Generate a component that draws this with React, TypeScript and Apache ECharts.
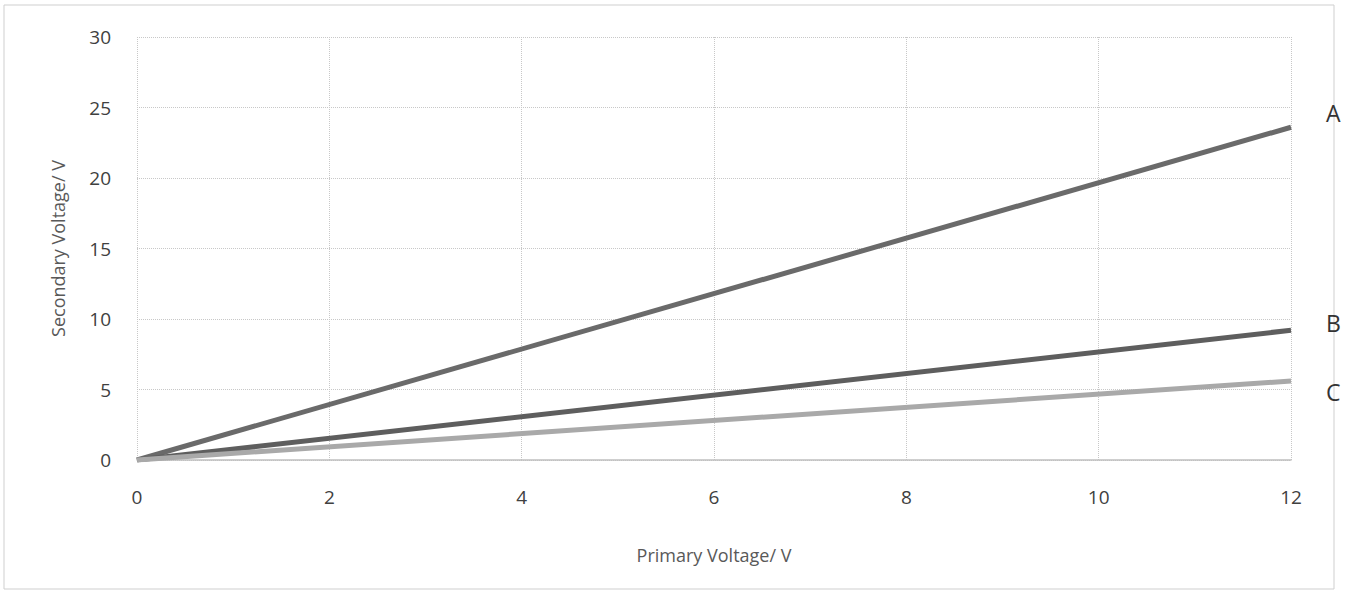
import React, { useEffect, useRef } from "react";
import * as echarts from "echarts";

const primaryVoltage = [0, 12];
const seriesNames = ["A", "B", "C"];
const valuesA = [0, 23.6];
const valuesB = [0, 9.2];
const valuesC = [0, 5.6];
const xTicks = [0, 2, 4, 6, 8, 10, 12];
const yTicks = [0, 5, 10, 15, 20, 25, 30];

export default function App() {
  const ref = useRef<HTMLDivElement>(null);
  useEffect(() => {
    if (!ref.current) return;
    const chart = echarts.init(ref.current, null, { renderer: "svg" });
    const font = "'Open Sans', 'Noto Sans', sans-serif";
    const mk = (name: string, vals: number[], color: string, offY: number) => ({
      name,
      type: "line",
      data: primaryVoltage.map((x, i) => [x, vals[i]]),
      symbol: "none",
      lineStyle: { color, width: 5 },
      endLabel: {
        show: true,
        formatter: "{a}",
        distance: 35,
        offset: [0, offY],
        color: "#333",
        fontSize: 23,
        fontFamily: font,
      },
    });
    chart.setOption({
      animation: false,
      backgroundColor: "#fff",
      grid: { left: 137, right: 57, top: 37, bottom: 132 },
      xAxis: {
        type: "value",
        min: xTicks[0],
        max: xTicks[xTicks.length - 1],
        interval: 2,
        name: "Primary Voltage/ V",
        nameLocation: "middle",
        nameGap: 86,
        nameTextStyle: { color: "#595959", fontSize: 18, fontFamily: font },
        axisLine: { show: true, lineStyle: { color: "#bfbfbf", width: 1.5 } },
        axisTick: { show: false },
        axisLabel: { color: "#404040", fontSize: 19, margin: 27, fontFamily: font },
        splitLine: { show: true, lineStyle: { color: "#c8c8c8", type: "dotted", width: 1 } },
      },
      yAxis: {
        type: "value",
        min: yTicks[0],
        max: yTicks[yTicks.length - 1],
        interval: 5,
        name: "Secondary Voltage/ V",
        nameLocation: "middle",
        nameGap: 70,
        nameTextStyle: { color: "#595959", fontSize: 18, fontFamily: font },
        axisLine: { show: false },
        axisTick: { show: false },
        axisLabel: { color: "#404040", fontSize: 19, margin: 26, fontFamily: font },
        splitLine: { show: true, lineStyle: { color: "#c8c8c8", type: "dotted", width: 1 } },
      },
      graphic: [
        {
          type: "rect",
          shape: { x: 4, y: 5, width: 1330, height: 584 },
          style: { fill: "none", stroke: "#cfcfcf", lineWidth: 1 },
          silent: true,
        },
      ],
      series: [
        mk(seriesNames[0], valuesA, "#6a6a6a", -14),
        mk(seriesNames[1], valuesB, "#5e5e5e", -7),
        mk(seriesNames[2], valuesC, "#a9a9a9", 11),
      ],
    });
    return () => chart.dispose();
  }, []);
  return (
    <div
      ref={ref}
      style={{ position: "absolute", left: 0, top: 0, width: 1348, height: 592 }}
    />
  );
}
